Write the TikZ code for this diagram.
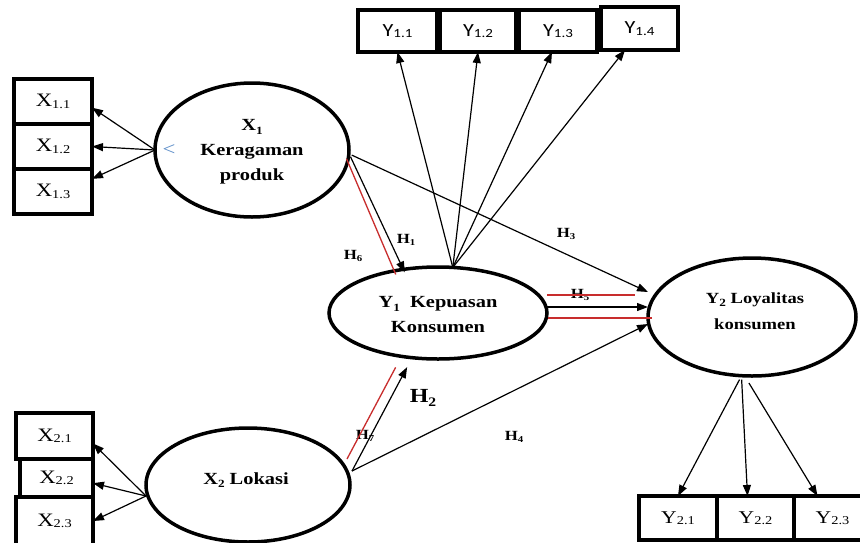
\documentclass[tikz,border=0pt]{standalone}
\usepackage{fontspec}
\setmainfont{Liberation Serif}[FakeStretch=1.2]
\newfontfamily\calfont{Carlito}[FakeStretch=1.2]
\usetikzlibrary{shapes.geometric,arrows.meta,calc}
\definecolor{hred}{RGB}{200,45,45}
\definecolor{hblue}{RGB}{90,140,200}
\newcommand{\sbx}[1]{\raisebox{-0.08em}{\fontsize{12}{12}\selectfont #1}}
\newcommand{\sby}[1]{\raisebox{-0.08em}{\fontsize{12.5}{12}\selectfont #1}}
\newcommand{\sbl}[1]{\raisebox{-0.2em}{\fontsize{11}{11}\selectfont #1}}
\newcommand{\sbh}[1]{\raisebox{-0.2em}{\fontsize{9}{9}\selectfont #1}}
\begin{document}
\begin{tikzpicture}[x=1pt,y=-1pt,
  indbox/.style={draw, line width=3.2pt, inner sep=0pt, outer sep=0pt, font=\fontsize{19}{20}\selectfont},
  calbox/.style={indbox, font=\calfont\fontsize{18.5}{20}\selectfont},
  lat/.style={draw, ellipse, line width=3.5pt, inner sep=0pt, outer sep=0pt},
  lattext/.style={align=center, inner sep=0pt, font=\bfseries\fontsize{17}{25}\selectfont},
  arr/.style={-{Triangle[length=11pt,width=8pt]}, line width=1.2pt},
  redl/.style={hred, line width=1.3pt},
  hlab/.style={inner sep=0pt, font=\bfseries\fontsize{14}{14}\selectfont}]
\useasboundingbox (0,0) rectangle (860,542);
\fill[white] (0,0) rectangle (860,542);
\clip (0,0) rectangle (860,542);

% latent variables
\node[lat, minimum width=194pt, minimum height=134pt] (x1) at (252,150) {};
\node[lat, minimum width=218pt, minimum height=92pt] (y1) at (438,313) {};
\node[lat, minimum width=208pt, minimum height=118pt] (y2) at (752,317) {};
\node[lat, minimum width=204pt, minimum height=114pt] (x2) at (248,485) {};

\node[lattext] (x1t) at (252,152) {X\sbl{1}\\Keragaman\\produk};
\node[lattext] (y1t) at (438,315) {Y\sbl{1}\ \ Kepuasan\\Konsumen};
\node[lattext, font=\bfseries\fontsize{15.5}{26}\selectfont] (y2t) at (755,311) {Y\sbl{2} Loyalitas\\konsumen};
\node[lattext] (x2t) at (246,480) {X\sbl{2} Lokasi};
\node[text=hblue, inner sep=0pt, font=\fontsize{19}{19}\selectfont] (lt) at (169,150) {<};

% indicator boxes
\node[indbox, minimum width=78pt, minimum height=45pt] (x11) at (53,101.5) {X\sbx{1.1}};
\node[indbox, minimum width=78pt, minimum height=45pt] (x12) at (53,146.5) {X\sbx{1.2}};
\node[indbox, minimum width=78pt, minimum height=45pt] (x13) at (53,191.5) {X\sbx{1.3}};

\node[indbox, minimum width=77pt, minimum height=46pt] (x21) at (54.5,436) {X\sbx{2.1}};
\node[indbox, minimum width=73pt, minimum height=38pt] (x22) at (56.5,478) {X\sbx{2.2}};
\node[indbox, minimum width=77pt, minimum height=48pt] (x23) at (54.5,521) {X\sbx{2.3}};

\node[calbox, minimum width=79pt, minimum height=42pt] (y11) at (397.5,31) {Y\sby{1.1}};
\node[calbox, minimum width=76pt, minimum height=42pt] (y12) at (478,31) {Y\sby{1.2}};
\node[calbox, minimum width=78pt, minimum height=42pt] (y13) at (558,31) {Y\sby{1.3}};
\node[calbox, minimum width=77pt, minimum height=43pt] (y14) at (639.5,28.5) {Y\sby{1.4}};

\node[indbox, font=\fontsize{18}{20}\selectfont, minimum width=78pt, minimum height=44pt] (y21) at (678,518) {Y\sbx{2.1}};
\node[indbox, font=\fontsize{18}{20}\selectfont, minimum width=77pt, minimum height=44pt] (y22) at (755.5,518) {Y\sbx{2.2}};
\node[indbox, font=\fontsize{18}{20}\selectfont, minimum width=77pt, minimum height=44pt] (y23) at (832.5,518) {Y\sbx{2.3}};

% hypothesis labels
\node[hlab] (h1) at (406,240) {H\sbh{1}};
\node[hlab] (h6) at (353,256) {H\sbh{6}};
\node[hlab] (h3) at (566,234) {H\sbh{3}};
\node[hlab] (h5) at (580,295) {H\sbh{5}};
\node[hlab, font=\bfseries\fontsize{20}{20}\selectfont] (h2) at (423,398) {H\raisebox{-0.2em}{\fontsize{13}{13}\selectfont 2}};
\node[hlab] (h7) at (365,436) {H\sbh{7}};
\node[hlab] (h4) at (514,437) {H\sbh{4}};

% measurement arrows
\draw[arr] (x1.west) -- (x11.-9);
\draw[arr] (x1.west) -- (x12.east);
\draw[arr] (x1.west) -- (x13.18);

\draw[arr] ([yshift=-11pt]x2.west) -- (x21.-11);
\draw[arr] ([yshift=-11pt]x2.west) -- (x22.-8);
\draw[arr] ([yshift=-11pt]x2.west) -- (x23.east);

\draw[arr] (y1.72) -- (y11.south);
\draw[arr] (y1.72) -- (y12.south);
\draw[arr] (y1.72) -- (y13.-106);
\draw[arr] (y1.72) -- (y14.-124);

\draw[arr] ([yshift=-4pt]y2.-102) -- (y21.north);
\draw[arr] ([yshift=-4pt]y2.-100) -- ([xshift=-8pt]y22.north);
\draw[arr] ([yshift=-7pt]y2.-93) -- ([xshift=-15pt]y23.north);

% structural paths
\draw[arr] ([xshift=2pt]x1.-4) -- ([xshift=2pt,yshift=-3pt]y1.129);
\draw[redl] ([xshift=-2pt,yshift=-2pt]x1.-4) -- ([xshift=-7pt,yshift=-5pt]y1.129);
\draw[arr] ([xshift=3pt]x1.-3) -- ([yshift=25pt]y2.west);

\draw[redl] ([yshift=18pt]y1.east) -- ([xshift=-13pt,yshift=22pt]y2.west);
\draw[arr] ([yshift=6pt]y1.east) -- ([yshift=10pt]y2.west);
\draw[redl] ([xshift=1pt,yshift=-5pt]y1.east) -- ([xshift=4pt,yshift=-1pt]y2.west);

\draw[arr] ([xshift=2pt,yshift=14pt]x2.east) -- ([yshift=-7pt]y2.west);
\draw[arr] ([xshift=2pt,yshift=14pt]x2.east) -- ([yshift=-10pt]y1.-125);
\draw[redl] ([xshift=-3pt,yshift=26pt]x2.east) -- ([yshift=-12pt]y1.-135);
\end{tikzpicture}
\end{document}
